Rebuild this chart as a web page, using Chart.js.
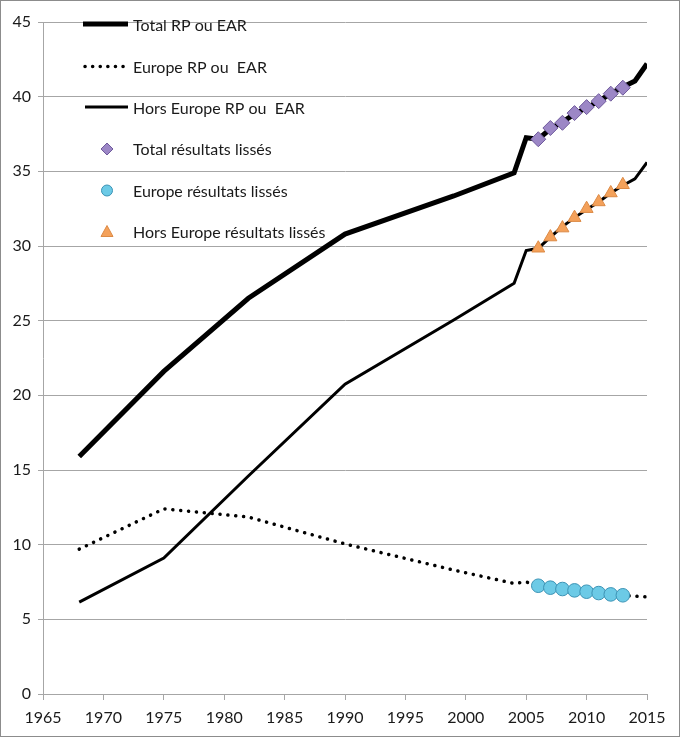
<!DOCTYPE html>
<html lang="fr">
<head>
<meta charset="utf-8">
<script src="https://cdn.jsdelivr.net/npm/chart.js@4"></script>
<style>
  html, body { margin: 0; padding: 0; background: #fff; }
  .frame {
    width: 680px;
    height: 737px;
    box-sizing: border-box;
    border: 1px solid #8c8c8c;
    position: relative;
  }
</style>
</head>
<body>
<div class="frame">
  <canvas id="chart"></canvas>
</div>
<script>
const years = [1968, 1975, 1982, 1990, 1999, 2004, 2005, 2006, 2007, 2008, 2009, 2010, 2011, 2012, 2013, 2014, 2015];
const totalRp = [15.9, 21.6, 26.5, 30.8, 33.35, 34.9, 37.25, 37.15, 37.85, 38.3, 38.85, 39.25, 39.7, 40.2, 40.65, 41.05, 42.2];
const europeRp = [9.7, 12.4, 11.85, 10.05, 8.3, 7.4, 7.5, 7.25, 7.12, 7.03, 6.94, 6.85, 6.76, 6.67, 6.61, 6.55, 6.5];
const horsRp = [6.15, 9.1, 14.6, 20.75, 25.05, 27.5, 29.7, 29.85, 30.6, 31.3, 31.9, 32.45, 32.95, 33.55, 34.05, 34.5, 35.6];

const smoothYears = [2006, 2007, 2008, 2009, 2010, 2011, 2012, 2013];
const smoothTotal = [37.15, 37.9, 38.25, 38.9, 39.3, 39.7, 40.2, 40.6];
const smoothEurope = [7.25, 7.12, 7.03, 6.94, 6.85, 6.76, 6.67, 6.61];
const smoothHors = [29.85, 30.6, 31.2, 31.9, 32.5, 32.95, 33.55, 34.1];

const legendLabels = [
  "Total RP ou EAR",
  "Europe RP ou  EAR",
  "Hors Europe RP ou  EAR",
  "Total résultats lissés",
  "Europe résultats lissés",
  "Hors Europe résultats lissés",
];

const colors = {
  line: "#000000",
  grid: "#a6a6a6",
  text: "#1a1a1a",
  diamond: "#9c87c6",
  diamondBorder: "#6f5a9c",
  circle: "#6ccae6",
  circleBorder: "#3c93b5",
  triangle: "#f4a15a",
  triangleBorder: "#dc8a45",
};

const fontFamily = "Lato, 'Open Sans', sans-serif";

function toPoints(xs, ys) {
  return xs.map((x, i) => ({ x, y: ys[i] }));
}

// legend drawn by hand: Excel puts it inside the plot, top left
const manualLegend = {
  id: "manualLegend",
  afterDatasetsDraw(chart) {
    const { ctx } = chart;
    const lineX0 = 82;
    const lineX1 = 127;
    const markX = 106;
    const textX = 132;
    const rows = [24, 65.5, 107, 148, 189.5, 230.5];

    ctx.save();
    ctx.font = `16px ${fontFamily}`;
    ctx.fillStyle = colors.text;
    ctx.textBaseline = "middle";
    legendLabels.forEach((label, i) => {
      ctx.fillText(label, textX, rows[i] + 1);
    });

    ctx.strokeStyle = colors.line;
    ctx.lineCap = "butt";

    ctx.lineWidth = 5;
    ctx.beginPath();
    ctx.moveTo(lineX0, rows[0] - 1);
    ctx.lineTo(lineX1, rows[0] - 1);
    ctx.stroke();

    ctx.lineWidth = 3.5;
    ctx.lineCap = "round";
    ctx.setLineDash([0.1, 7.5]);
    ctx.beginPath();
    ctx.moveTo(lineX0 + 2, rows[1]);
    ctx.lineTo(lineX1 - 2, rows[1]);
    ctx.stroke();
    ctx.setLineDash([]);

    ctx.lineCap = "butt";
    ctx.lineWidth = 3;
    ctx.beginPath();
    ctx.moveTo(lineX0 + 2, rows[2] - 1);
    ctx.lineTo(lineX1, rows[2] - 1);
    ctx.stroke();

    ctx.lineWidth = 1;
    ctx.fillStyle = colors.diamond;
    ctx.strokeStyle = colors.diamondBorder;
    ctx.beginPath();
    ctx.moveTo(markX, rows[3] - 6);
    ctx.lineTo(markX + 6, rows[3]);
    ctx.lineTo(markX, rows[3] + 6);
    ctx.lineTo(markX - 6, rows[3]);
    ctx.closePath();
    ctx.fill();
    ctx.stroke();

    ctx.fillStyle = colors.circle;
    ctx.strokeStyle = colors.circleBorder;
    ctx.beginPath();
    ctx.arc(markX, rows[4], 5.5, 0, Math.PI * 2);
    ctx.fill();
    ctx.stroke();

    ctx.fillStyle = colors.triangle;
    ctx.strokeStyle = colors.triangleBorder;
    ctx.beginPath();
    ctx.moveTo(markX, rows[5] - 6);
    ctx.lineTo(markX + 6, rows[5] + 5);
    ctx.lineTo(markX - 6, rows[5] + 5);
    ctx.closePath();
    ctx.fill();
    ctx.stroke();
    ctx.restore();
  },
};

const canvas = document.getElementById("chart");
canvas.width = 678;
canvas.height = 735;

new Chart(canvas, {
  type: "line",
  plugins: [manualLegend],
  data: {
    datasets: [
      {
        label: legendLabels[3],
        data: toPoints(smoothYears, smoothTotal),
        showLine: false,
        pointStyle: "rectRot",
        pointRadius: 7.5,
        pointBackgroundColor: colors.diamond,
        pointBorderColor: colors.diamondBorder,
        pointBorderWidth: 1,
        order: 0,
      },
      {
        label: legendLabels[4],
        data: toPoints(smoothYears, smoothEurope),
        showLine: false,
        pointStyle: "circle",
        pointRadius: 6.8,
        pointBackgroundColor: colors.circle,
        pointBorderColor: colors.circleBorder,
        pointBorderWidth: 1,
        order: 0,
      },
      {
        label: legendLabels[5],
        data: toPoints(smoothYears, smoothHors),
        showLine: false,
        pointStyle: "triangle",
        pointRadius: 7.5,
        pointBackgroundColor: colors.triangle,
        pointBorderColor: colors.triangleBorder,
        pointBorderWidth: 1,
        order: 0,
      },
      {
        label: legendLabels[0],
        data: toPoints(years, totalRp),
        borderColor: colors.line,
        borderWidth: 5,
        pointRadius: 0,
        tension: 0,
        order: 1,
      },
      {
        label: legendLabels[1],
        data: toPoints(years, europeRp),
        borderColor: colors.line,
        borderWidth: 3.5,
        borderDash: [0.1, 7.8],
        borderCapStyle: "round",
        pointRadius: 0,
        tension: 0,
        order: 1,
      },
      {
        label: legendLabels[2],
        data: toPoints(years, horsRp),
        borderColor: colors.line,
        borderWidth: 3,
        pointRadius: 0,
        tension: 0,
        order: 1,
      },
    ],
  },
  options: {
    responsive: false,
    animation: false,
    devicePixelRatio: 1,
    layout: {
      padding: { top: 21, right: 32, left: 0, bottom: 0 },
    },
    plugins: {
      legend: { display: false },
      tooltip: { enabled: false },
    },
    scales: {
      x: {
        type: "linear",
        min: 1965,
        max: 2015,
        afterFit: (scale) => {
          scale.height = 42;
        },
        ticks: {
          stepSize: 5,
          color: colors.text,
          padding: 8,
          maxRotation: 0,
          font: { family: fontFamily, size: 16 },
          callback: (value) => String(value),
        },
        grid: {
          drawOnChartArea: false,
          drawTicks: true,
          tickLength: 6,
          color: colors.grid,
        },
        border: { color: colors.grid, width: 1 },
      },
      y: {
        min: 0,
        max: 45,
        afterFit: (scale) => {
          scale.width = 42;
        },
        ticks: {
          stepSize: 5,
          color: colors.text,
          padding: 7,
          font: { family: fontFamily, size: 16 },
        },
        grid: {
          color: colors.grid,
          tickLength: 5,
          lineWidth: 1,
        },
        border: { color: colors.grid, width: 1 },
      },
    },
  },
});
</script>
</body>
</html>
